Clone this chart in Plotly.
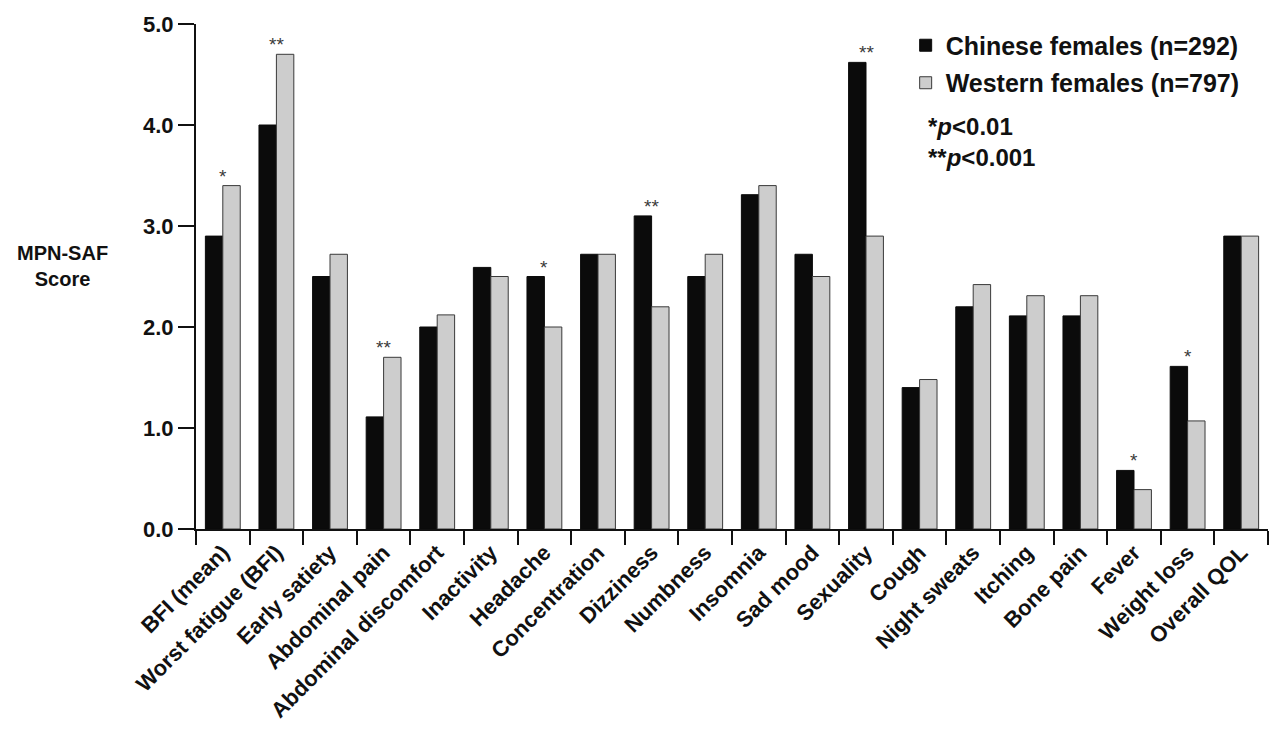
import plotly.graph_objects as go

categories = ["BFI (mean)", "Worst fatigue (BFI)", "Early satiety", "Abdominal pain",
              "Abdominal discomfort", "Inactivity", "Headache", "Concentration",
              "Dizziness", "Numbness", "Insomnia", "Sad mood", "Sexuality", "Cough",
              "Night sweats", "Itching", "Bone pain", "Fever", "Weight loss", "Overall QOL"]
chinese = [2.90, 4.00, 2.50, 1.11, 2.00, 2.59, 2.50, 2.72, 3.10, 2.50,
           3.31, 2.72, 4.62, 1.40, 2.20, 2.11, 2.11, 0.58, 1.61, 2.90]
western = [3.40, 4.70, 2.72, 1.70, 2.12, 2.50, 2.00, 2.72, 2.20, 2.72,
           3.40, 2.50, 2.90, 1.48, 2.42, 2.31, 2.31, 0.39, 1.07, 2.90]
significance = ["*", "**", "", "**", "", "", "*", "", "**", "",
                "", "", "**", "", "", "", "", "*", "*", ""]
y_ticks = [0, 1, 2, 3, 4, 5]
y_tick_labels = ["0.0", "1.0", "2.0", "3.0", "4.0", "5.0"]

FONT = "Liberation Sans, Arial, Helvetica, sans-serif"

fig = go.Figure()
fig.add_trace(go.Bar(x=categories, y=chinese, name="Chinese females (n=292)",
                     legendgroup="a",
                     marker=dict(color="#0b0b0b", line=dict(color="#0b0b0b", width=1))))
fig.add_trace(go.Bar(x=categories, y=western, name="Western females (n=797)",
                     legendgroup="b",
                     marker=dict(color="#cdcdcd", line=dict(color="#3a3a3a", width=1))))

for cat, c, w, s in zip(categories, chinese, western, significance):
    if s:
        fig.add_annotation(x=cat, y=max(c, w), text=s, showarrow=False,
                           yanchor="bottom", yshift=-3,
                           font=dict(family=FONT, size=19, color="#3a3a3a"))

fig.add_annotation(xref="paper", yref="paper", x=-0.125, y=0.52,
                   text="<b>MPN-SAF<br>Score</b>", showarrow=False,
                   xanchor="center", yanchor="middle",
                   font=dict(family=FONT, size=20, color="#111111"))
fig.add_annotation(xref="paper", yref="paper", x=0.681, y=0.827,
                   text="<b>*<i>p</i>&lt;0.01<br>**<i>p</i>&lt;0.001</b>",
                   showarrow=False, xanchor="left", yanchor="top", align="left",
                   font=dict(family=FONT, size=24, color="#111111"))

fig.update_layout(
    width=1280, height=748,
    margin=dict(l=188, r=20, t=16, b=227),
    paper_bgcolor="white", plot_bgcolor="white",
    barmode="group", bargap=0.35, bargroupgap=0,
    font=dict(family=FONT, color="#111111"),
    legend=dict(x=0.662, y=1.003, xanchor="left", yanchor="top",
                font=dict(family=FONT, size=25, color="#111111", weight="bold"),
                bgcolor="rgba(0,0,0,0)", tracegroupgap=2),
    xaxis=dict(type="category", tickangle=-45, showline=True, linecolor="#111111",
               linewidth=2, ticks="outside", tickson="boundaries", ticklen=14,
               tickwidth=2, tickcolor="#111111", showgrid=False, automargin=False,
               tickfont=dict(family=FONT, size=22, color="#111111", weight="bold")),
    yaxis=dict(range=[0, 5], tickvals=y_ticks, ticktext=y_tick_labels,
               showline=True, linecolor="#111111", linewidth=2, ticks="outside",
               ticklen=16, tickwidth=2, tickcolor="#111111", showgrid=False,
               zeroline=False, automargin=False,
               tickfont=dict(family=FONT, size=22, color="#111111", weight="bold")),
)

fig.write_html("out.html")
